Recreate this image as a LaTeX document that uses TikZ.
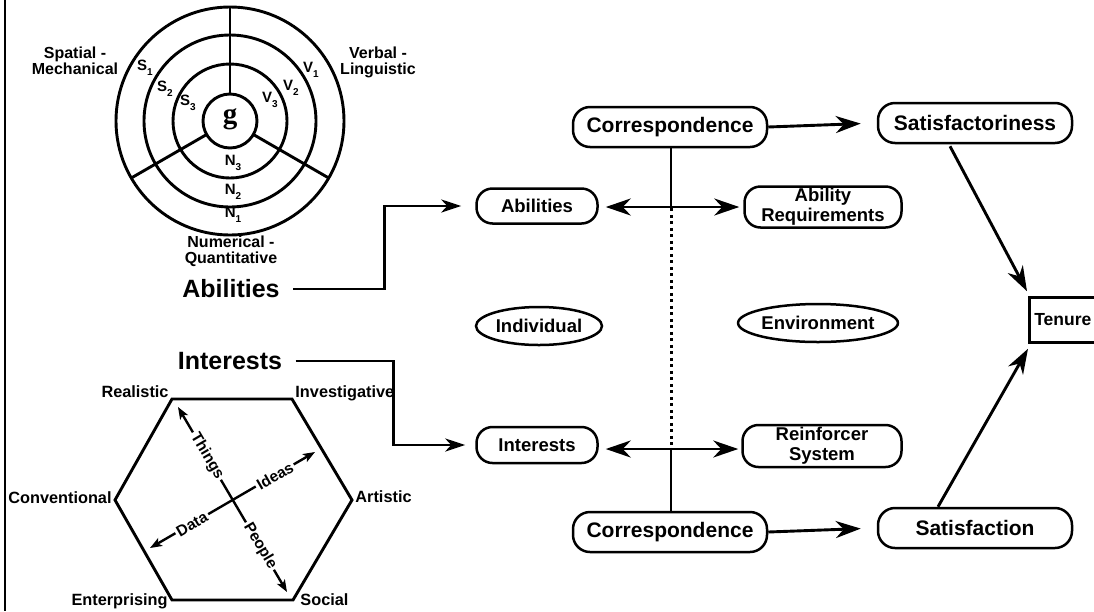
\documentclass[tikz,border=0pt]{standalone}
\usepackage{fontspec}
\setmainfont{Liberation Sans}
\newfontfamily\serifbf{Liberation Serif}
\usetikzlibrary{arrows.meta,calc,shapes.geometric}
\newcommand\fsz[1]{\fontsize{#1}{#1}\selectfont}
\newcommand\sublab[2]{#1\raisebox{-0.3em}{\fontsize{10}{10}\selectfont #2}}
\begin{document}
\begin{tikzpicture}[x=1pt,y=-1pt,line width=2.9pt,
  font=\bfseries,
  rbox/.style={draw,line width=2.5pt,rounded corners=17pt,align=center,inner sep=0pt,minimum height=40pt},
  sbox/.style={draw,line width=2.5pt,rounded corners=16pt,align=center,inner sep=0pt},
  ell/.style={draw,ellipse,line width=2.5pt,inner sep=0pt,minimum height=38pt},
  bigarr/.style={-{Stealth[length=25pt,width=17pt,inset=8pt]}},
  dblarr/.style={{Stealth[length=25pt,width=17pt,inset=8pt]}-{Stealth[length=25pt,width=17pt,inset=8pt]}},
  inarr/.style={-{Stealth[length=20pt,width=13pt,inset=6pt]}},
  axarr/.style={line width=2.4pt,{Stealth[length=12pt,width=9pt,inset=3pt]}-{Stealth[length=12pt,width=9pt,inset=3pt]}},
  axlab/.style={fill=white,inner sep=2pt,font=\bfseries\fsz{15.5}},
  clab/.style={align=center,font=\bfseries\fontsize{16}{16}\selectfont},
  hlab/.style={font=\bfseries\fsz{16.3},inner sep=0pt},
  rlab/.style={font=\bfseries\fsz{15},inner sep=1pt}]
\clip (0,0) rectangle (1094,611);
\fill[white] (0,0) rectangle (1094,611);
% left border
\coordinate (bt) at (5,0);
\coordinate (bb) at (5,611);
\draw[line width=2.6pt] (bt) -- (bb);

% ---------- circle diagram ----------
\node[inner sep=0pt,font=\serifbf\bfseries\fsz{29}] (g) at (230,119) {g};
\coordinate (gc) at (230,121);
\foreach \r in {27,57,86,114} \draw (gc) circle[radius=\r pt];
\foreach \a in {90,210,330} \draw ($(gc)+(\a:27pt)$) -- ($(gc)+(\a:114pt)$);
\node[clab] (spat) at (75,61) {Spatial -\\Mechanical};
\node[clab] (verb) at (378,62) {Verbal -\\Linguistic};
\node[clab] (numq) at (231,251) {Numerical -\\Quantitative};
\node[rlab] (s1) at (145,68) {\sublab{S}{1}};
\node[rlab] (s2) at (165,89) {\sublab{S}{2}};
\node[rlab] (s3) at (188,103) {\sublab{S}{3}};
\node[rlab] (v1) at (311,70) {\sublab{V}{1}};
\node[rlab] (v2) at (291,88) {\sublab{V}{2}};
\node[rlab] (v3) at (270,100) {\sublab{V}{3}};
\node[rlab] (n3) at (233,163) {\sublab{N}{3}};
\node[rlab] (n2) at (233,192) {\sublab{N}{2}};
\node[rlab] (n1) at (233,215) {\sublab{N}{1}};
\node[font=\bfseries\fsz{25},inner sep=3pt] (abilBig) at (231,289) {Abilities};

% ---------- hexagon ----------
\coordinate (hR) at (172,399);
\coordinate (hI) at (292,399);
\coordinate (hA) at (352,500);
\coordinate (hS) at (293,600);
\coordinate (hE) at (172,600);
\coordinate (hC) at (115,500);
\draw[line join=miter] (hR) -- (hI) -- (hA) -- (hS) -- (hE) -- (hC) -- cycle;
\node[hlab,anchor=base east] (lR) at (170,397) {Realistic};
\node[hlab,anchor=base west] (lI) at (294,397) {Investigative};
\node[hlab,anchor=base east] (lC) at (113,503) {Conventional};
\node[hlab,anchor=base west] (lA) at (354,502) {Artistic};
\node[hlab,anchor=base east] (lE) at (169,605) {Enterprising};
\node[hlab,anchor=base west] (lS) at (299,605) {Social};
\coordinate (axT) at (178,407);
\coordinate (axP) at (287,592);
\coordinate (axD) at (150,548);
\coordinate (axI) at (315,452);
\draw[axarr] (axT) -- (axP);
\draw[axarr] (axD) -- (axI);
\node[axlab,rotate=-59.5] (things) at (207,456) {Things};
\node[axlab,rotate=-59.5] (people) at (260,546) {People};
\node[axlab,rotate=30.2] (ideas) at (275,476) {Ideas};
\node[axlab,rotate=30.2] (data) at (192,524) {Data};
\node[font=\bfseries\fsz{25},inner sep=3pt] (intrBig) at (230,361) {Interests};

% ---------- middle ----------
\node[rbox,minimum width=194pt,font=\bfseries\fsz{21}] (corrT) at (670,127) {Correspondence};
\node[rbox,minimum width=194pt,font=\bfseries\fsz{21}] (corrB) at (670,532) {Correspondence};
\node[rbox,minimum width=194pt,font=\bfseries\fsz{21}] (satT) at (975,123) {Satisfactoriness};
\node[rbox,minimum width=194pt,font=\bfseries\fsz{21}] (satB) at (975,528) {Satisfaction};
\node[sbox,minimum width=121pt,minimum height=35pt,font=\bfseries\fsz{18.5}] (abil) at (537,206) {Abilities};
\node[sbox,minimum width=121pt,minimum height=36pt,font=\bfseries\fsz{18.5}] (intr) at (537,445) {Interests};
\node[sbox,minimum width=157pt,minimum height=41pt,font=\bfseries\fontsize{18.5}{20}\selectfont] (abreq) at (823,207) {Ability\\Requirements};
\node[sbox,minimum width=159pt,minimum height=42pt,font=\bfseries\fontsize{18.5}{20}\selectfont] (reinf) at (822,446) {Reinforcer\\System};
\node[ell,minimum width=126pt,font=\bfseries\fsz{18.5}] (indiv) at (539,326) {Individual};
\node[ell,minimum width=153pt,font=\bfseries\fsz{18.5}] (env) at (818,323) {Environment};
\node[draw,line width=2.5pt,anchor=west,minimum height=45pt,inner xsep=5pt,inner ysep=0pt,font=\bfseries\fsz{17.5}] (tenure) at (1028,320) {Tenure\hspace{25pt}};

% connectors
\draw[inarr,shorten <=9pt,shorten >=14pt] (abilBig.east) -- ++(100,0) |- (abil.west);
\draw[inarr,shorten <=9pt,shorten >=10pt] (intrBig.east) -- ++(107,0) |- (intr.west);
\draw[dblarr,shorten <=7pt,shorten >=4pt] ($(abil.east)+(0,1)$) -- (abreq.west);
\draw[dblarr,shorten <=7pt,shorten >=3pt] ($(intr.east)+(0,4)$) -- ($(reinf.west)+(0,3)$);
\coordinate (j1) at ($(corrT.south)+(1,60)$);
\coordinate (j2) at ($(corrB.north)+(1,-63)$);
\draw ($(corrT.south)+(1,0)$) -- (j1);
\draw[dash pattern=on 3pt off 3.5pt,line width=3pt] (j1) -- (j2);
\draw (j2) -- ($(corrB.north)+(1,0)$);
\draw[bigarr,shorten >=16pt] (corrT.east) -- (satT.west);
\draw[bigarr,shorten >=16pt] (corrB.east) -- (satB.west);
\draw[bigarr] ($(satT.south)+(-25,2)$) -- ($(tenure.north west)+(-1,-5)$);
\draw[bigarr] ($(satB.north)+(-37,0)$) -- ($(tenure.south west)+(0,5)$);
\end{tikzpicture}
\end{document}
